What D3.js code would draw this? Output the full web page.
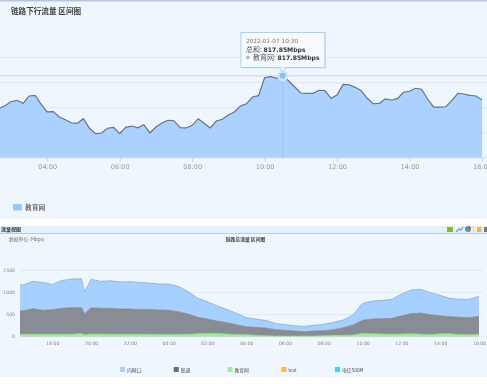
<!DOCTYPE html>
<html>
<head>
<meta charset="utf-8">
<script src="https://cdn.jsdelivr.net/npm/d3@7"></script>
<style>
  html, body { margin: 0; padding: 0; background: #eff6fd; overflow: hidden; }
  svg { display: block; filter: blur(0.3px); }
  text { font-family: "Noto Sans CJK SC", "DejaVu Sans", sans-serif; }
  .num { font-family: "DejaVu Sans", sans-serif; }
</style>
</head>
<body>
<svg id="chart" width="487" height="384"></svg>
<script>
// upper chart, one value every 10 minutes from 02:40 to 16:00
const eduDown = [495, 520, 560, 574, 544, 617, 624, 534, 458, 461, 408, 381, 351, 345, 391, 296, 242,
  249, 296, 305, 242, 305, 318, 301, 331, 249, 308, 348, 375, 371, 301, 299, 325, 391, 345, 299, 368,
  385, 428, 458, 517, 540, 607, 620, 799, 809, 793, 817.85, 766, 706, 647, 644, 644, 674, 670, 594,
  627, 733, 729, 703, 670, 594, 540, 544, 587, 577, 590, 654, 664, 694, 684, 587, 507, 507, 510, 570,
  644, 637, 624, 617, 580];
const topTickLabels = ["04:00", "06:00", "08:00", "10:00", "12:00", "14:00", "16:00"];
const topGrid = [250, 500, 750, 1000];

// lower chart, stacked
const lowTimes = ["16:20", "16:30", "17:00", "17:30", "18:00", "18:30", "19:00", "19:30", "19:40", "20:00",
  "20:30", "21:00", "21:30", "22:00", "22:30", "23:00", "23:30", "00:00", "00:30", "01:00", "01:30",
  "02:00", "02:30", "03:00", "03:30", "04:00", "04:30", "05:00", "05:30", "06:00", "06:30", "07:00",
  "07:30", "08:00", "08:30", "09:00", "09:30", "10:00", "10:30", "11:00", "11:30", "12:00", "12:30",
  "13:00", "13:30", "14:00", "14:30", "15:00", "15:30", "16:00"];
const eduLow = [53, 53, 53, 53, 53, 53, 55, 75, 45, 60, 60, 55, 53, 53, 53, 53, 50, 48, 48, 53, 68, 75, 70,
  60, 50, 45, 33, 23, 15, 15, 15, 15, 15, 23, 30, 30, 38, 75, 68, 60, 58, 60, 68, 58, 45, 68, 68, 50, 45, 53];
const unicomLow = [534, 534, 579, 542, 557, 587, 600, 580, 475, 595, 580, 585, 572, 572, 564, 564, 552, 547,
  517, 459, 369, 324, 284, 256, 221, 181, 178, 173, 143, 128, 113, 98, 113, 113, 128, 173, 226, 294, 331,
  347, 356, 414, 452, 477, 452, 406, 384, 387, 384, 406];
const innerLow = [595, 580, 618, 632, 572, 632, 648, 655, 497, 640, 610, 625, 610, 617, 610, 595, 588, 595,
  572, 505, 429, 392, 339, 301, 256, 203, 188, 173, 143, 128, 120, 120, 128, 143, 166, 174, 225, 384, 407,
  414, 429, 490, 534, 534, 497, 460, 414, 406, 414, 452];
const lowTickLabels = ["18:00", "20:00", "22:00", "00:00", "02:00", "04:00", "06:00", "08:00", "10:00", "12:00", "14:00", "16:00"];
const lowGrid = [0, 500, 1000, 1500];
const lowLegend = ["内网口", "联通", "教育网", "test", "电信500M"];
const lowColors = ["#a6d0ff", "#6b6e76", "#a6eaa0", "#ffb55a", "#45cdf0"];

const svg = d3.select("#chart");

// hours from the start of the window, so that the lower chart can cross midnight
function hourOf(s) {
  let p = s.split(":");
  return +p[0] + p[1] / 60;
}
function lowHour(s) {
  let h = hourOf(s);
  return h >= 16.2 ? h : h + 24;
}

// page furniture
svg.append("rect").attr("width", 487).attr("height", 384).attr("fill", "#eff6fd");
svg.append("rect").attr("width", 487).attr("height", 1.5).attr("fill", "#b4c6e0");
svg.append("rect").attr("y", 219).attr("width", 487).attr("height", 7).attr("fill", "#fff");
svg.append("rect").attr("y", 226).attr("width", 487).attr("height", 7).attr("fill", "#e6f1fb");
svg.append("rect").attr("y", 233).attr("width", 487).attr("height", 1).attr("fill", "#b3cee8");
svg.append("rect").attr("y", 377).attr("width", 487).attr("height", 7).attr("fill", "#fff");
svg.append("text").attr("x", 1).attr("y", 231).attr("font-size", 5).attr("font-weight", 700)
  .attr("fill", "#333").text("流量视图");

// ---- upper chart
const xTop = d3.scaleLinear().domain([2 + 40 / 60, 16]).range([-1.1, 482]);
const yTop = d3.scaleLinear().domain([0, 1000]).range([158, 57.5]);
const topHours = eduDown.map((d, i) => 2 + 40 / 60 + i / 6);

svg.append("text").attr("x", 11).attr("y", 14).attr("font-size", 7.6).attr("font-weight", 700)
  .attr("fill", "#444").text("链路下行流量 区间图");

svg.append("g").selectAll("line").data(topGrid).join("line")
  .attr("x1", 0).attr("x2", 487)
  .attr("y1", d => yTop(d)).attr("y2", d => yTop(d))
  .attr("stroke", "#e2e6ee").attr("stroke-width", 1);

svg.append("path").datum(eduDown)
  .attr("fill", "#a6d0ff").attr("opacity", 0.95)
  .attr("d", d3.area().x((d, i) => xTop(topHours[i])).y0(yTop(0)).y1(d => yTop(d)));

const axisTop = d3.axisBottom(xTop)
  .tickValues(topTickLabels.map(hourOf))
  .tickFormat((d, i) => topTickLabels[i])
  .tickSize(4).tickPadding(2);
const gTop = svg.append("g").attr("transform", `translate(0,${yTop(0)})`).call(axisTop);
gTop.select(".domain").attr("d", "M0,0H487").attr("stroke", "#d8e0ea");
gTop.selectAll(".tick line").attr("stroke", "#ccd4de");
gTop.selectAll("text").attr("class", "num").attr("font-size", 6.5).attr("fill", "#999");

// axis pointer sits on the hovered sample
const hovered = 47;
svg.append("line").attr("x1", 0).attr("x2", 487)
  .attr("y1", yTop(eduDown[hovered])).attr("y2", yTop(eduDown[hovered]))
  .attr("stroke", "#d8dee8").attr("stroke-width", 1.6);
svg.append("line").attr("x1", xTop(topHours[hovered])).attr("x2", xTop(topHours[hovered]))
  .attr("y1", yTop(eduDown[hovered])).attr("y2", yTop(0))
  .attr("stroke", "#96c6f4").attr("stroke-width", 1);

svg.append("path").datum(eduDown)
  .attr("fill", "none").attr("stroke", "#6f7177").attr("stroke-width", 1.2)
  .attr("d", d3.line().x((d, i) => xTop(topHours[i])).y(d => yTop(d)));

svg.append("circle").attr("cx", xTop(topHours[hovered])).attr("cy", yTop(eduDown[hovered]))
  .attr("r", 5.5).attr("fill", "#cfe5fb");
svg.append("circle").attr("cx", xTop(topHours[hovered])).attr("cy", yTop(eduDown[hovered]))
  .attr("r", 3).attr("fill", "#85bffa");

// tooltip
const tip = svg.append("g");
const tipX = xTop(topHours[hovered]) - 41.8, tipY = 32.5;
tip.append("rect").attr("x", tipX + 1).attr("y", tipY + 1).attr("width", 84).attr("height", 35)
  .attr("fill", "#9db4cc").attr("opacity", 0.35);
tip.append("rect").attr("x", tipX).attr("y", tipY).attr("width", 84).attr("height", 35)
  .attr("fill", "#f7fafd").attr("stroke", "#a9cff3").attr("stroke-width", 1);
tip.append("path").attr("d", `M${tipX + 38},${tipY + 35}l3.8,4l3.8,-4`)
  .attr("fill", "#f7fafd").attr("stroke", "#a9cff3");
tip.append("text").attr("class", "num").attr("x", tipX + 5).attr("y", tipY + 10.5)
  .attr("font-size", 5.8).attr("fill", "#777").text("2022-01-07 10:30");
tip.append("text").attr("x", tipX + 5).attr("y", tipY + 19).attr("font-size", 7).attr("fill", "#555").text("总和:");
tip.append("text").attr("class", "num").attr("x", tipX + 22.7).attr("y", tipY + 19)
  .attr("font-size", 6.1).attr("font-weight", 700).attr("fill", "#333").text(eduDown[hovered] + "Mbps");
tip.append("circle").attr("cx", tipX + 7).attr("cy", tipY + 25).attr("r", 1.8).attr("fill", "#85bffa");
tip.append("text").attr("x", tipX + 12).attr("y", tipY + 27.5).attr("font-size", 7).attr("fill", "#555").text("教育网:");
tip.append("text").attr("class", "num").attr("x", tipX + 36.7).attr("y", tipY + 27.5)
  .attr("font-size", 6.1).attr("font-weight", 700).attr("fill", "#333").text(eduDown[hovered] + "Mbps");

// top legend
svg.append("rect").attr("x", 13).attr("y", 204).attr("width", 9).attr("height", 6.5).attr("rx", 1).attr("fill", "#96c8ff");
svg.append("text").attr("x", 25).attr("y", 210).attr("font-size", 6.8).attr("font-weight", 500).attr("fill", "#555").text("教育网");

// ---- lower chart
const xLow = d3.scaleLinear().domain([lowHour("16:20"), lowHour("16:00")]).range([20, 479]);
const yLow = d3.scaleLinear().domain([0, 1500]).range([336.7, 270.3]);

svg.append("text").attr("x", 9).attr("y", 241).attr("font-size", 4.8).attr("fill", "#777").text("数据单位 (Mbps)");
svg.append("text").attr("x", 245.5).attr("y", 241).attr("font-size", 4.8).attr("font-weight", 700)
  .attr("text-anchor", "middle").attr("fill", "#444").text("链路总流量 区间图");

svg.append("g").selectAll("line").data(lowGrid).join("line")
  .attr("x1", 20).attr("x2", 483)
  .attr("y1", d => yLow(d)).attr("y2", d => yLow(d))
  .attr("stroke", "#dfe5ee").attr("stroke-width", 0.8);
svg.append("g").selectAll("text").data(lowGrid).join("text")
  .attr("class", "num").attr("x", 15).attr("y", d => yLow(d) + 1.7)
  .attr("text-anchor", "end").attr("font-size", 4.6).attr("fill", "#888").text(d => d);

const lowRows = lowTimes.map((t, i) => ({ hour: lowHour(t), edu: eduLow[i], unicom: unicomLow[i], inner: innerLow[i] }));
const stack = d3.stack().keys(["edu", "unicom", "inner"])(lowRows);
const stackFill = { edu: "#a6eaa0", unicom: "#888c94", inner: "#a6d0ff" };
const stackLine = { edu: "#93d98d", unicom: "#7d8088", inner: "#9aa0aa" };

svg.append("g").selectAll("path").data(stack).join("path")
  .attr("fill", d => stackFill[d.key])
  .attr("d", d3.area().x(d => xLow(d.data.hour)).y0(d => yLow(d[0])).y1(d => yLow(d[1])));
svg.append("g").selectAll("path").data(stack).join("path")
  .attr("fill", "none").attr("stroke", d => stackLine[d.key]).attr("stroke-width", 0.7)
  .attr("d", d3.line().x(d => xLow(d.data.hour)).y(d => yLow(d[1])));

const lowTickHours = lowTickLabels.map(lowHour);
lowTickHours[lowTickHours.length - 1] = lowHour("16:00");
const axisLow = d3.axisBottom(xLow)
  .tickValues(lowTickHours)
  .tickFormat((d, i) => lowTickLabels[i])
  .tickSize(0).tickPadding(5);
const gLow = svg.append("g").attr("transform", `translate(0,${yLow(0)})`).call(axisLow);
gLow.select(".domain").remove();
gLow.selectAll("text").attr("class", "num").attr("font-size", 4.6).attr("fill", "#888");

// lower legend
const legendX = d3.scalePoint().domain(lowLegend).range([120, 335]);
const lg = svg.append("g").selectAll("g").data(lowLegend).join("g")
  .attr("transform", d => `translate(${legendX(d)},367)`);
lg.append("rect").attr("width", 5).attr("height", 5).attr("fill", (d, i) => lowColors[i]);
lg.append("text").attr("x", 7).attr("y", 4.8).attr("font-size", 4.8).attr("fill", "#555").text(d => d);

// toolbar icons, top right of the lower panel
const icons = svg.append("g");
icons.append("rect").attr("x", 447).attr("y", 227).attr("width", 6).attr("height", 5).attr("fill", "#86b832");
icons.append("path").attr("d", "M456,232l3,-3l2,1l2,-3").attr("fill", "none").attr("stroke", "#5a9fc0").attr("stroke-width", 1.2);
icons.append("circle").attr("cx", 468).attr("cy", 229).attr("r", 3).attr("fill", "#4a90d8");
icons.append("path").attr("d", "M468,229v-3a3,3 0 0 1 3,3z").attr("fill", "#d84a3a");
icons.append("path").attr("d", "M468,229h3a3,3 0 0 1 -3,3z").attr("fill", "#6ab04a");
icons.append("rect").attr("x", 473).attr("y", 226).attr("width", 0.6).attr("height", 6).attr("fill", "#b8c6d4");
icons.append("rect").attr("x", 477).attr("y", 227).attr("width", 4.5).attr("height", 5).attr("fill", "#eeb84e");
icons.append("rect").attr("x", 484).attr("y", 227).attr("width", 3).attr("height", 5).attr("fill", "#777");
</script>
</body>
</html>
